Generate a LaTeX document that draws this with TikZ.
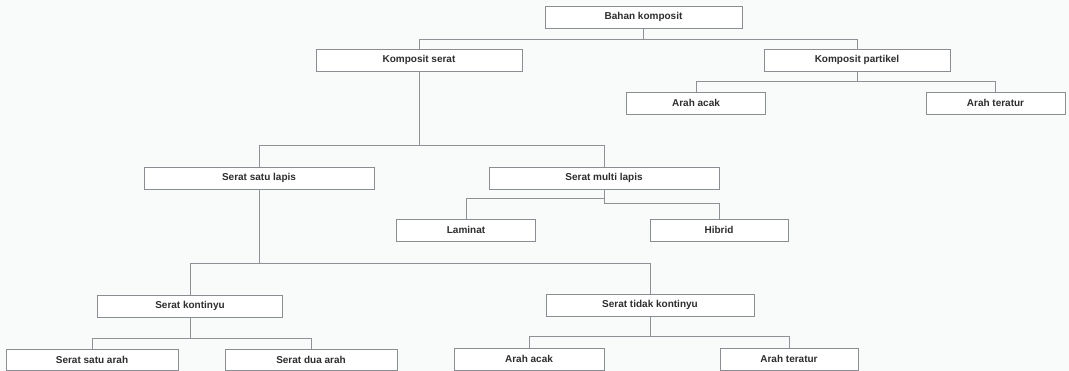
\documentclass[tikz,border=0pt]{standalone}
\usepackage{fontspec}
\setmainfont{Liberation Sans}
\definecolor{bg}{HTML}{F9FAFA}
\definecolor{boxline}{HTML}{8A8E92}
\definecolor{conn}{HTML}{8E9296}
\definecolor{txt}{HTML}{2E2E2E}
\begin{document}
\begin{tikzpicture}[x=1pt,y=-1pt,
  box/.style={draw=boxline, line width=0.9pt, fill=white, minimum height=22pt, inner sep=0pt,
    font=\fontsize{10}{12}\selectfont\bfseries, text=txt},
  link/.style={draw=conn, line width=0.9pt}]
\fill[bg] (0,0) rectangle (1069,371);
\useasboundingbox (0,0) rectangle (1069,371);
% nodes
\node[box, minimum width=197pt] (bahan) at (643.5,17) {Bahan komposit};
\node[box, minimum width=206pt] (kserat) at (419,60) {Komposit serat};
\node[box, minimum width=186pt] (kpart) at (857,60) {Komposit partikel};
\node[box, minimum width=139pt] (acak1) at (696,103) {Arah acak};
\node[box, minimum width=139pt] (teratur1) at (995.5,103) {Arah teratur};
\node[box, minimum width=230pt] (satulapis) at (259,178) {Serat satu lapis};
\node[box, minimum width=230pt] (multilapis) at (604,178) {Serat multi lapis};
\node[box, minimum width=139pt] (laminat) at (466,230) {Laminat};
\node[box, minimum width=138pt] (hibrid) at (719,230) {Hibrid};
\node[box, minimum width=185pt] (kontinyu) at (190,306) {Serat kontinyu};
\node[box, minimum width=208pt] (tidak) at (650,305) {Serat tidak kontinyu};
\node[box, minimum width=172pt, minimum height=21pt] (satuarah) at (92,359.8) {Serat satu arah};
\node[box, minimum width=172pt, minimum height=21pt] (duaarah) at (311,359.8) {Serat dua arah};
\node[box, minimum width=150pt] (acak2) at (529,359) {Arah acak};
\node[box, minimum width=138pt] (teratur2) at (789,359) {Arah teratur};
% connectors
\draw[link] (bahan.south) -- ++(0,11) -| (kserat.north);
\draw[link] (bahan.south) -- ++(0,11) -| (kpart.north);
\draw[link] (kpart.south) -- ++(0,10) -| (acak1.north);
\draw[link] (kpart.south) -- ++(0,10) -| (teratur1.north);
\draw[link] (kserat.south) -- ++(0,74) -| (satulapis.north);
\draw[link] (kserat.south) -- ++(0,74) -| (multilapis.north);
\draw[link] (multilapis.south) -- ++(0,9) -| (laminat.north);
\draw[link] (multilapis.south) -- ++(0,14) -| (hibrid.north);
\draw[link] (satulapis.south) -- ++(0,74) -| (kontinyu.north);
\draw[link] (satulapis.south) -- ++(0,74) -| (tidak.north);
\draw[link] (kontinyu.south) -- ++(0,21) -| (satuarah.north);
\draw[link] (kontinyu.south) -- ++(0,21) -| (duaarah.north);
\draw[link] (tidak.south) -- ++(0,20) -| (acak2.north);
\draw[link] (tidak.south) -- ++(0,20) -| (teratur2.north);
\end{tikzpicture}
\end{document}
